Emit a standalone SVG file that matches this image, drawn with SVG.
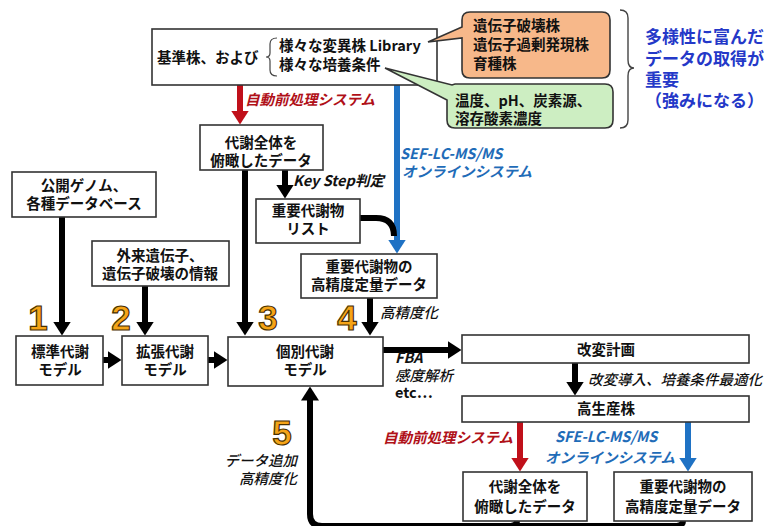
<svg xmlns="http://www.w3.org/2000/svg" width="772" height="526" viewBox="0 0 772 526">
<style>
text{font-family:"Noto Sans CJK JP","Liberation Sans",sans-serif;fill:#111;}
.bx{fill:#fff;stroke:#333;stroke-width:1.6;}
.t{font-size:14.5px;font-weight:bold;text-anchor:middle;}
.tl{font-size:14.5px;font-weight:bold;}
.ln{fill:none;stroke:#000;stroke-width:6;}
.lr{fill:none;stroke:#c0101a;stroke-width:6;}
.lb{fill:none;stroke:#1f72c4;stroke-width:6;}
.it{font-size:14.5px;font-weight:bold;font-style:italic;}
.red{fill:#b01018;}
.blue{fill:#1f6cb8;}
.num{font-family:"Liberation Sans",sans-serif;font-weight:bold;font-size:35px;fill:#f5a417;stroke:#4a3000;stroke-width:1.2;text-anchor:middle;}
.big{font-size:17px;font-weight:bold;fill:#2438c8;}
</style>
<defs>
<marker id="ah" markerUnits="userSpaceOnUse" markerWidth="14" markerHeight="18" viewBox="0 0 14 18" refX="0.5" refY="9" orient="auto"><path d="M0,0 L14,9 L0,18 z" fill="#000"/></marker>
<marker id="ahr" markerUnits="userSpaceOnUse" markerWidth="14" markerHeight="18" viewBox="0 0 14 18" refX="0.5" refY="9" orient="auto"><path d="M0,0 L14,9 L0,18 z" fill="#c0101a"/></marker>
<marker id="ahb" markerUnits="userSpaceOnUse" markerWidth="14" markerHeight="18" viewBox="0 0 14 18" refX="0.5" refY="9" orient="auto"><path d="M0,0 L14,9 L0,18 z" fill="#1f72c4"/></marker>
</defs>

<g id="connectors">
<path class="lr" d="M240,85 V111" marker-end="url(#ahr)"/>
<path class="lb" d="M397,85 V240" marker-end="url(#ahb)"/>
<path class="ln" d="M360,218 H376 Q394,218 394,236"/>
<path class="ln" d="M245,170 V322" marker-end="url(#ah)"/>
<path class="ln" d="M285,170 V185" marker-end="url(#ah)"/>
<path class="ln" d="M62,217 V322" marker-end="url(#ah)"/>
<path class="ln" d="M145,286 V322" marker-end="url(#ah)"/>
<path class="ln" d="M370,298 V322" marker-end="url(#ah)"/>
<path class="ln" d="M103,360 H108" marker-end="url(#ah)"/>
<path class="ln" d="M208,360 H214" marker-end="url(#ah)"/>
<path class="ln" d="M383,350 H448" marker-end="url(#ah)"/>
<path class="ln" d="M575,363 V382" marker-end="url(#ah)"/>
<path class="lr" d="M520,422 V458" marker-end="url(#ahr)"/>
<path class="lb" d="M688,422 V458" marker-end="url(#ahb)"/>
<path class="ln" d="M517,521 Q517,526 508,526 H322 Q310,526 310,514 V400" marker-end="url(#ah)"/>
<path class="ln" d="M683,521 Q683,526 674,526 H510"/>
</g>

<g id="top">
<rect class="bx" x="152" y="29" width="285" height="56"/>
<text class="tl" x="157" y="63">基準株、および</text>
<path d="M277,38 Q270,38 270,44 V53 Q270,57 266,57 Q270,57 270,61 V70 Q270,76 277,76" fill="none" stroke="#444" stroke-width="1.2"/>
<text class="tl" x="279" y="51">様々な変異株 Library</text>
<text class="tl" x="279" y="70">様々な培養条件</text>
</g>

<g id="callout-orange">
<path d="M470,12 H602 Q610,12 610,20 V70 Q610,78 602,78 H470 Q462,78 462,70 V38 L428,42 L462,27 V20 Q462,12 470,12 Z" fill="#f7b88a" stroke="#333" stroke-width="1.6"/>
<text class="tl" x="473" y="31">遺伝子破壊株</text>
<text class="tl" x="473" y="50">遺伝子過剰発現株</text>
<text class="tl" x="473" y="69">育種株</text>
</g>
<g id="callout-green">
<path d="M455,84 H605 Q613,84 613,92 V120 Q613,128 605,128 H455 Q447,128 447,120 V100 L385,68 L452,85 Z" fill="#cdeec2" stroke="#333" stroke-width="1.6"/>
<text class="tl" x="455" y="106">温度、pH、炭素源、</text>
<text class="tl" x="455" y="124">溶存酸素濃度</text>
</g>
<g id="note">
<path d="M620,10 Q628,10 628,18 V60 Q628,68 634,68 Q628,68 628,76 V120 Q628,128 620,128" fill="none" stroke="#444" stroke-width="1.4"/>
<text class="big" x="645" y="43">多様性に富んだ</text>
<text class="big" x="645" y="65">データの取得が</text>
<text class="big" x="645" y="86">重要</text>
<text class="big" x="645" y="107">（強みになる）</text>
</g>

<text class="it red" x="245" y="105" font-size="15">自動前処理システム</text>
<text class="it blue" x="400" y="159">SEF-LC-MS/MS</text>
<text class="it blue" x="402" y="177">オンラインシステム</text>
<text class="it" x="293" y="186" font-size="15">Key Step判定</text>
<text class="it" x="380" y="318" style="font-weight:500">高精度化</text>
<text class="it" x="395" y="363">FBA</text>
<text class="it" x="395" y="381" style="font-weight:500">感度解析</text>
<text class="it" x="395" y="398" style="font-style:normal">etc…</text>
<text class="it" x="588" y="385" font-size="15" style="font-weight:500">改変導入、培養条件最適化</text>
<text class="it red" x="383" y="443" font-size="15">自動前処理システム</text>
<text class="it blue" x="555" y="442">SFE-LC-MS/MS</text>
<text class="it blue" x="545" y="463">オンラインシステム</text>
<text class="it" x="297" y="466" text-anchor="end" font-size="15" style="font-weight:500">データ追加</text>
<text class="it" x="297" y="484" text-anchor="end" font-size="15" style="font-weight:500">高精度化</text>

<text class="num" x="38" y="330">1</text>
<text class="num" x="121" y="330">2</text>
<text class="num" x="268" y="330">3</text>
<text class="num" x="347" y="330">4</text>
<text class="num" x="282" y="445" font-size="42">5</text>

<g id="n-overview"><rect class="bx" x="200" y="125" width="123" height="45"/><text class="t" x="261" y="148">代謝全体を</text><text class="t" x="261" y="166">俯瞰したデータ</text></g>
<g id="n-genome"><rect class="bx" x="12" y="172" width="144" height="45"/><text class="t" x="84" y="191">公開ゲノム、</text><text class="t" x="84" y="209">各種データベース</text></g>
<g id="n-gene"><rect class="bx" x="92" y="241" width="137" height="45"/><text class="t" x="160" y="261">外来遺伝子、</text><text class="t" x="160" y="279">遺伝子破壊の情報</text></g>
<g id="n-list"><rect class="bx" x="256" y="199" width="104" height="44"/><text class="t" x="308" y="216">重要代謝物</text><text class="t" x="308" y="234">リスト</text></g>
<g id="n-quant"><rect class="bx" x="301" y="254" width="136" height="44"/><text class="t" x="369" y="272">重要代謝物の</text><text class="t" x="369" y="290">高精度定量データ</text></g>
<g id="n-std"><rect class="bx" x="16" y="336" width="87" height="49"/><text class="t" x="60" y="357">標準代謝</text><text class="t" x="60" y="375">モデル</text></g>
<g id="n-ext"><rect class="bx" x="122" y="336" width="86" height="49"/><text class="t" x="165" y="357">拡張代謝</text><text class="t" x="165" y="375">モデル</text></g>
<g id="n-ind"><rect class="bx" x="228" y="337" width="155" height="49"/><text class="t" x="305" y="357">個別代謝</text><text class="t" x="305" y="375">モデル</text></g>
<g id="n-plan"><rect class="bx" x="462" y="335" width="287" height="28"/><text class="t" x="606" y="355">改変計画</text></g>
<g id="n-high"><rect class="bx" x="462" y="396" width="287" height="26"/><text class="t" x="606" y="414">高生産株</text></g>
<g id="n-overview2"><rect class="bx" x="463" y="472" width="124" height="49"/><text class="t" x="525" y="492">代謝全体を</text><text class="t" x="525" y="512">俯瞰したデータ</text></g>
<g id="n-quant2"><rect class="bx" x="614" y="472" width="138" height="49"/><text class="t" x="683" y="492">重要代謝物の</text><text class="t" x="683" y="512">高精度定量データ</text></g>
</svg>
